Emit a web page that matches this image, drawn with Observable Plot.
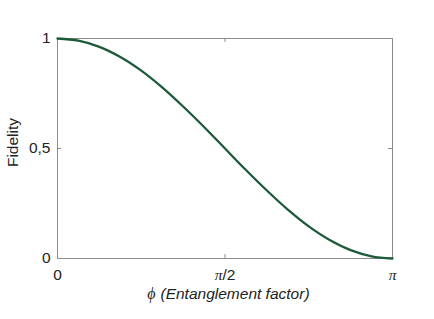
<!DOCTYPE html>
<html><head><meta charset="utf-8">
<script src="https://cdn.jsdelivr.net/npm/d3@7"></script>
<script src="https://cdn.jsdelivr.net/npm/@observablehq/plot@0.6"></script>
<style>body{margin:0;background:#fff}</style>
</head><body><div id="chart"></div>
<script>
// phi in units of pi, fidelity
const phiOverPi = [0, 0.0625, 0.125, 0.1875, 0.25, 0.3125, 0.375, 0.4375, 0.5, 0.5625, 0.625, 0.6875, 0.75, 0.8125, 0.875, 0.9375, 1];
const fidelity  = [1, 0.990, 0.962, 0.916, 0.854, 0.778, 0.691, 0.598, 0.5, 0.402, 0.309, 0.222, 0.146, 0.084, 0.038, 0.010, 0];
const xTicks = [0, 0.5, 1];
const xTickLabels = ["0", "π/2", "π"];
const yTicks = [0, 0.5, 1];
const yTickLabels = ["0", "0,5", "1"];
const xLabelSymbol = "ϕ";
const xLabelText = "(Entanglement factor)";
const yLabel = "Fidelity";

const data = phiOverPi.map((p, i) => ({p, f: fidelity[i]}));
const gray = "#8c8c8c";
const font = "Liberation Sans, Arial, Helvetica, sans-serif";
const serif = "Liberation Serif, Times New Roman, serif";
const xFmt = (d) => xTickLabels[xTicks.indexOf(d)];
const yFmt = (d) => yTickLabels[yTicks.indexOf(d)];

const plot = Plot.plot({
  width: 434, height: 319,
  marginLeft: 57, marginRight: 42, marginTop: 38, marginBottom: 61,
  style: {fontFamily: font, fontSize: "15.5px", color: "#222", background: "#fff"},
  x: {domain: [0, 1]},
  y: {domain: [0, 1]},
  marks: [
    Plot.frame({stroke: gray, strokeWidth: 1}),
    Plot.axisX({ticks: xTicks, tickFormat: xFmt, tickSize: 0, tickPadding: 10, label: null}),
    Plot.axisY({ticks: yTicks, tickFormat: yFmt, tickSize: 0, tickPadding: 7, label: null}),
    Plot.ruleX(xTicks.slice(1, -1), {x: d => d, y1: 0, y2: 0.018, stroke: gray}),
    Plot.ruleX(xTicks.slice(1, -1), {x: d => d, y1: 1, y2: 0.982, stroke: gray}),
    Plot.ruleY(yTicks.slice(1, -1), {y: d => d, x1: 0, x2: 0.012, stroke: gray}),
    Plot.ruleY(yTicks.slice(1, -1), {y: d => d, x1: 1, x2: 0.988, stroke: gray}),
    Plot.line(data, {x: "p", y: "f", stroke: "#1d5a3a", strokeWidth: 2.3, curve: "catmull-rom"}),
    Plot.text([xLabelSymbol], {frameAnchor: "bottom", text: d => d, textAnchor: "end", dx: 155 - 224.5, dy: 40, fontFamily: serif, fontStyle: "italic", fontSize: 16, fill: "#222"}),
    Plot.text([xLabelText], {frameAnchor: "bottom", text: d => d, textAnchor: "start", dx: 160 - 224.5, dy: 40, fontStyle: "italic", fill: "#222"}),
    Plot.text([yLabel], {frameAnchor: "left", text: d => d, textAnchor: "middle", rotate: -90, dx: -44, dy: -6, fill: "#222"})
  ]
});
// render pi in a serif italic face like the original tick labels
d3.select(plot).selectAll("text").each(function() {
  const t = d3.select(this);
  if (this.textContent.includes("π") && this.childElementCount === 0) {
    const parts = this.textContent.split("π");
    t.text(null);
    parts.forEach((part, i) => {
      if (i > 0) t.append("tspan").attr("font-family", serif).attr("font-style", "italic").text("π");
      if (part) t.append("tspan").text(part);
    });
  }
});
document.getElementById("chart").appendChild(plot);
</script>
</body></html>
